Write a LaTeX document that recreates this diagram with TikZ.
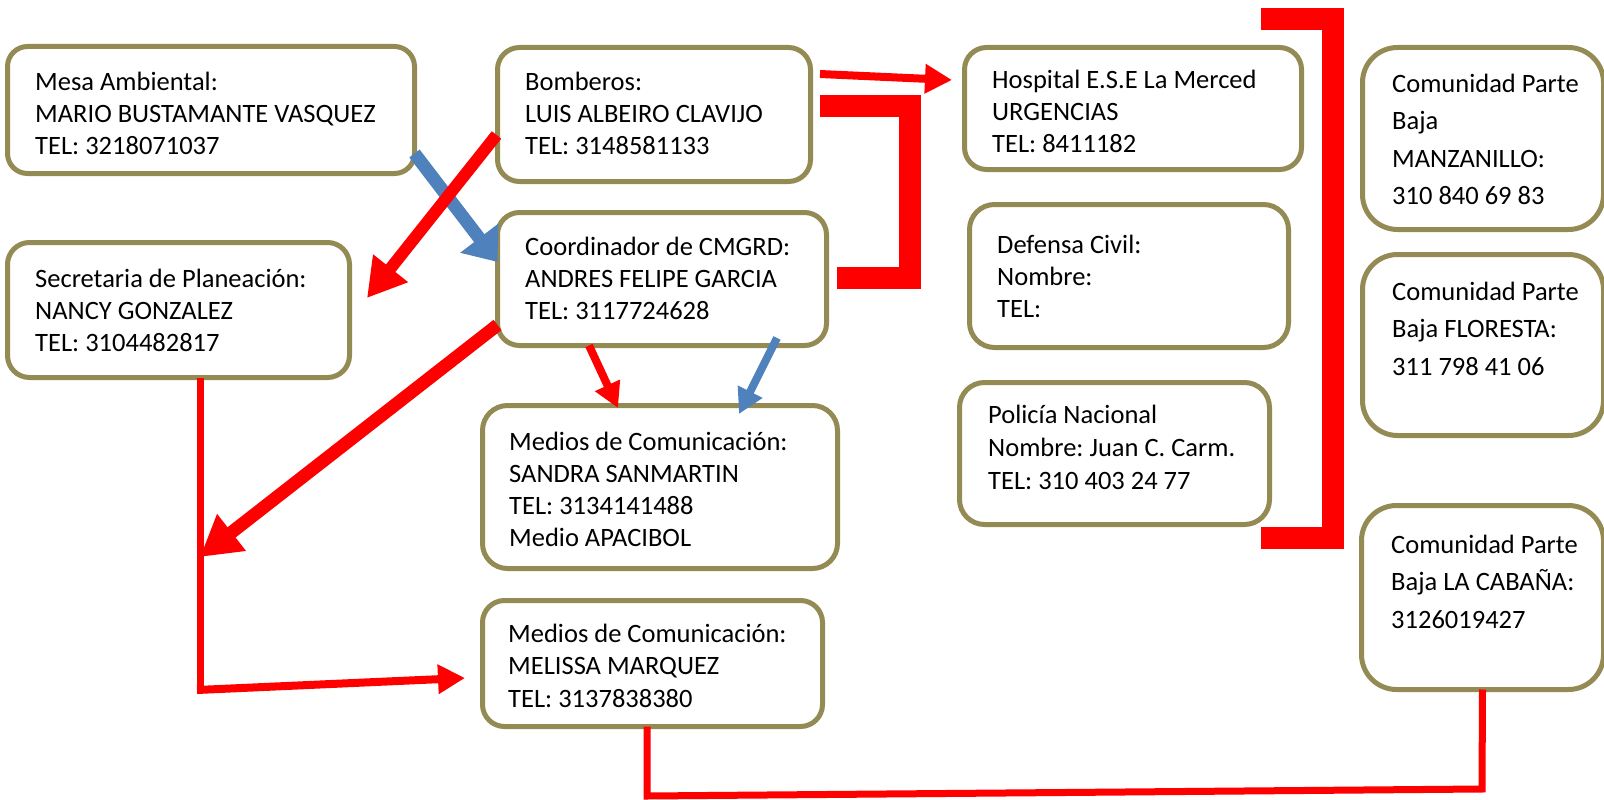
\documentclass[tikz,border=0pt]{standalone}
\usepackage{fontspec}
\setmainfont{Carlito}
\usetikzlibrary{arrows.meta,calc}
\definecolor{boxc}{RGB}{148,138,84}
\definecolor{redc}{RGB}{255,0,0}
\definecolor{bluec}{RGB}{79,129,189}
\frenchspacing
\begin{document}
\begin{tikzpicture}[x=1pt,y=-1pt,
  box/.style={draw=boxc, line width=5pt, fill=white, inner sep=0pt, outer sep=0pt, anchor=north west, rectangle},
  txt/.style={anchor=base west, inner sep=0pt, align=left, font=\fontsize{26.5}{32}\selectfont},
  txtc/.style={txt, font=\fontsize{26.5}{37.5}\selectfont},
  redbig/.style={draw=redc, line width=12pt, -{Triangle[length=38pt,width=42pt]}},
  bluebig/.style={draw=bluec, line width=13pt, -{Triangle[length=30pt,width=46pt]}},
  redmid/.style={draw=redc, line width=8pt, -{Triangle[length=27pt,width=28pt]}},
  bluemid/.style={draw=bluec, line width=8pt, -{Triangle[length=25pt,width=26pt]}},
  redthin/.style={draw=redc, line width=7pt},
  bracket/.style={draw=redc, line width=22pt, miter limit=10}
]
\useasboundingbox (0,0) rectangle (1604,800);
\clip (0,0) rectangle (1604,800);

% boxes
\node[box, rounded corners=20pt, minimum width=407pt, minimum height=127pt] (mesa) at (7.5,46.5) {};
\node[box, rounded corners=22pt, minimum width=313pt, minimum height=134pt] (bomb) at (497.5,47.5) {};
\node[box, rounded corners=22pt, minimum width=337pt, minimum height=122pt] (hosp) at (964.5,47.5) {};
\node[box, rounded corners=35pt, minimum width=241pt, minimum height=182pt] (man) at (1362.5,47.5) {};
\node[box, rounded corners=22pt, minimum width=342pt, minimum height=135pt] (sec) at (7.5,242.5) {};
\node[box, rounded corners=22pt, minimum width=329pt, minimum height=133pt] (coord) at (497.5,212.5) {};
\node[box, rounded corners=25pt, minimum width=319pt, minimum height=143pt] (def) at (969.5,204.5) {};
\node[box, rounded corners=35pt, minimum width=241pt, minimum height=181pt] (flo) at (1362.5,254.5) {};
\node[box, rounded corners=25pt, minimum width=310pt, minimum height=142pt] (pol) at (959.5,382.5) {};
\node[box, rounded corners=25pt, minimum width=355pt, minimum height=163pt] (med1) at (482.5,405.5) {};
\node[box, rounded corners=35pt, minimum width=242pt, minimum height=184pt] (cab) at (1361.5,505.5) {};
\node[box, rounded corners=22pt, minimum width=340pt, minimum height=126pt] (med2) at (482.5,600.5) {};

% texts (anchored at the baseline of their last line)
\node[txt] (mesaT) at (35,154) {Mesa Ambiental:\\MARIO BUSTAMANTE VASQUEZ\\TEL: 3218071037};
\node[txt] (bombT) at (525,154) {Bomberos:\\LUIS ALBEIRO CLAVIJO\\TEL: 3148581133};
\node[txt] (hospT) at (992,152) {Hospital E.S.E La Merced\\URGENCIAS\\TEL: 8411182};
\node[txtc] (manT) at (1392,204.5) {Comunidad Parte\\Baja\\MANZANILLO:\\310 840 69 83};
\node[txt] (secT) at (35,351) {Secretaria de Planeación:\\NANCY GONZALEZ\\TEL: 3104482817};
\node[txt] (coordT) at (525,319) {Coordinador de CMGRD:\\ANDRES FELIPE GARCIA\\TEL: 3117724628};
\node[txt] (defT) at (997,317) {Defensa Civil:\\Nombre:\\TEL:};
\node[txtc] (floT) at (1392,375) {Comunidad Parte\\Baja FLORESTA:\\311 798 41 06};
\node[txt, font=\fontsize{26.5}{33}\selectfont] (polT) at (988,489) {Policía Nacional\\Nombre: Juan C. Carm.\\TEL: 310 403 24 77};
\node[txt] (med1T) at (509,546) {Medios de Comunicación:\\SANDRA SANMARTIN\\TEL: 3134141488\\Medio APACIBOL};
\node[txtc] (cabT) at (1391,628) {Comunidad Parte\\Baja LA CABAÑA:\\3126019427};
\node[txt, font=\fontsize{26.5}{32.5}\selectfont] (med2T) at (508,707) {Medios de Comunicación:\\MELISSA MARQUEZ\\TEL: 3137838380};

% named free points
\coordinate (joint) at (200,557);
\coordinate (bl) at (200,690);
\coordinate (b1) at (647,796);
\coordinate (b2) at (1482,789);

% connectors
\draw[redthin, line cap=butt] ($(sec.south)+(21.5,0)$) -- (bl);
\draw[redthin, line width=8pt, -{Triangle[length=27pt,width=28pt]}] ($(bl)+(-3,0)$) -- ($(med2.west)+(-17.5,14.5)$);
\draw[redthin, line join=miter] ($(med2.south)+(-5.5,0)$) -- (b1) -- (b2) -- (cab.south);

\draw[bluebig] ($(mesa.south east)+(0,-20)$) -- ($(coord.west)+(0,-17)$);
\draw[redbig] ($(bomb.west)+(-1,20.5)$) -- ($(sec.east)+(17.5,-12)$);
\draw[redbig, line width=13pt, -{Triangle[length=40pt,width=44pt]}] ($(coord.west)+(0,46)$) -- (joint);
\draw[redmid] ($(bomb.east)+(9.5,-40.5)$) -- ($(hosp.west)+(-12.5,-28.5)$);
\draw[redmid, -{Triangle[length=25pt,width=26pt]}] ($(coord.south)+(-73,0)$) -- ($(med1.north)+(-42,2.5)$);
\draw[bluemid] ($(coord.south)+(115,-7.5)$) -- ($(med1.north)+(79,8.5)$);

\draw[bracket] ($(bomb.east)+(9.5,-9)$) -- ++(89.5,0) |- ($(coord.east)+(10.5,-1.5)$);
\draw[bracket] ($(pol.south east)+(-8.5,13.5)$) -- ++(72,0) |- ($(hosp.north east)+(-40.5,-28.5)$);
\end{tikzpicture}
\end{document}
